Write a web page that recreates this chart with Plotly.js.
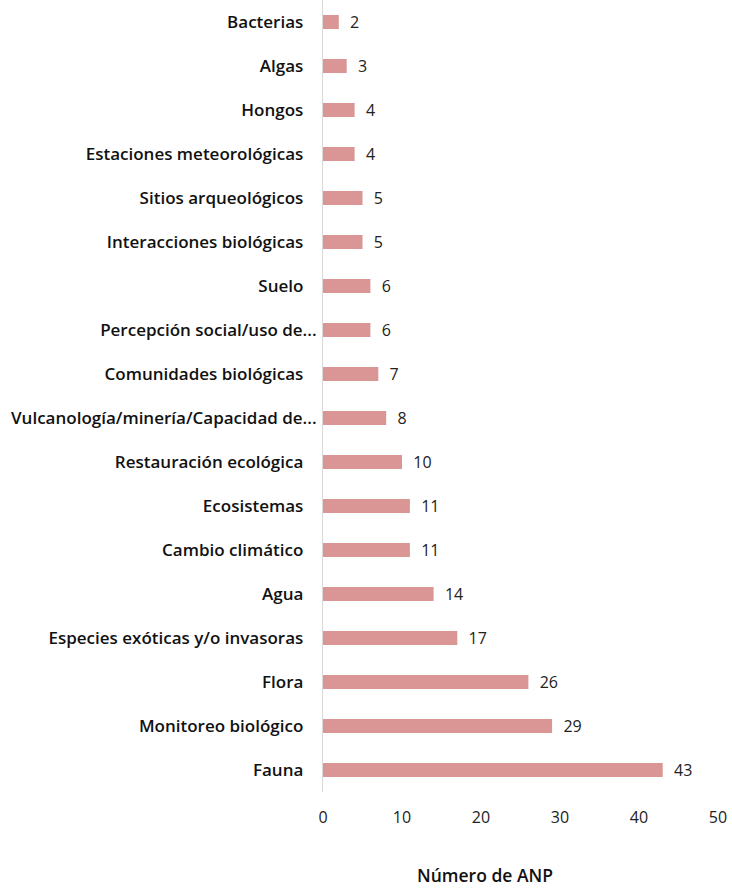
<!DOCTYPE html>
<html><head><meta charset="utf-8">
<script src="https://cdn.plot.ly/plotly-3.0.1.min.js"></script>
<style>html,body{margin:0;padding:0;background:#fff}</style>
</head><body>
<div id="chart" style="width:732px;height:888px"></div>
<script>
const categories = ["Fauna","Monitoreo biológico","Flora","Especies exóticas y/o invasoras","Agua","Cambio climático","Ecosistemas","Restauración ecológica","Vulcanología/minería/Capacidad de...","Comunidades biológicas","Percepción social/uso de...","Suelo","Interacciones biológicas","Sitios arqueológicos","Estaciones meteorológicas","Hongos","Algas","Bacterias"];
const values = [43,29,26,17,14,11,11,10,8,7,6,6,5,5,4,4,3,2];
const xTicks = [0,10,20,30,40,50];

const pad = '\u00a0\u00a0\u00a0';
const trace = {
  type: 'bar', orientation: 'h',
  y: categories,
  x: values,
  width: 0.32,
  marker: {color: '#DA9694'},
  text: values.map(v => '\u00a0\u00a0' + v),
  textposition: 'outside',
  constraintext: 'none',
  cliponaxis: false,
  textfont: {family: 'Open Sans', size: 16, color: '#222'},
  hoverinfo: 'none'
};
const layout = {
  width: 732, height: 888,
  margin: {l: 323, r: 14, t: 0, b: 96},
  paper_bgcolor: '#fff', plot_bgcolor: '#fff',
  showlegend: false,
  xaxis: {
    range: [0, 50], tickvals: xTicks, ticktext: xTicks.map(String),
    showgrid: false, zeroline: false, showline: false,
    ticks: '', ticklabelstandoff: 14,
    tickfont: {family: 'Open Sans', size: 16, color: '#222'}
  },
  yaxis: {
    type: 'category',
    tickvals: categories,
    ticktext: categories.map(c => c.endsWith('...') ? c : c + pad),
    showgrid: false, zeroline: false,
    showline: true, linecolor: '#d9d9d9', linewidth: 1,
    ticks: '', ticklabelstandoff: 2,
    tickfont: {family: 'Open Sans', size: 17, weight: 600, color: '#111'},
    range: [-0.5, 17.5]
  },
  annotations: [{
    text: 'Número de ANP', xref: 'paper', yref: 'paper',
    x: (485 - 323) / 395, y: 0, yshift: -83, showarrow: false,
    xanchor: 'center', yanchor: 'middle',
    font: {family: 'Open Sans', size: 17.5, weight: 600, color: '#111'}
  }]
};
Plotly.newPlot('chart', [trace], layout, {displayModeBar: false, staticPlot: true});
</script>
</body></html>
